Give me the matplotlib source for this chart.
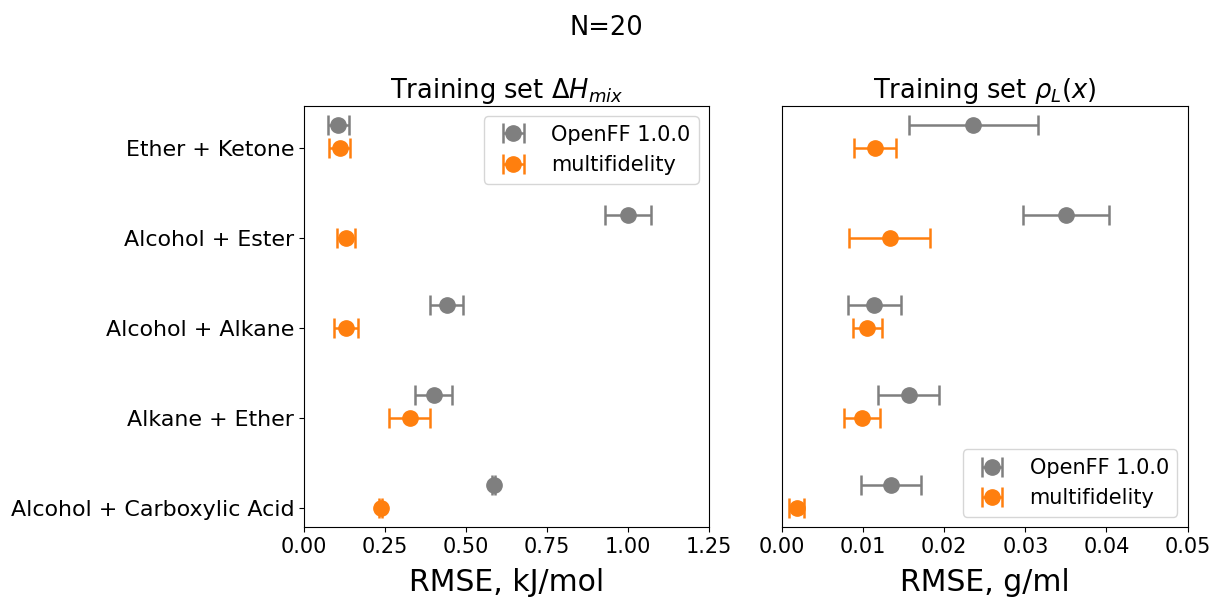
import matplotlib
matplotlib.use('Agg')
from matplotlib import pyplot as pl
import numpy

categories = ['Ether + Ketone', 'Alcohol + Ester', 'Alcohol + Alkane',
              'Alkane + Ether', 'Alcohol + Carboxylic Acid']

# enthalpy of mixing, kJ/mol
hmix_openff = [0.106, 1.000, 0.440, 0.400, 0.586]
hmix_openff_err = [0.032, 0.070, 0.050, 0.057, 0.005]
hmix_multi = [0.110, 0.130, 0.130, 0.326, 0.237]
hmix_multi_err = [0.032, 0.029, 0.036, 0.064, 0.005]

# density, g/ml
dens_openff = [0.0236, 0.0350, 0.0114, 0.0156, 0.0134]
dens_openff_err = [0.0080, 0.0053, 0.0033, 0.0038, 0.0037]
dens_multi = [0.0115, 0.0133, 0.0105, 0.0099, 0.0018]
dens_multi_err = [0.0026, 0.0050, 0.0018, 0.0022, 0.0009]

style = dict(fmt='o', markersize=11, elinewidth=1.8, capsize=7, capthick=1.8)


def plot_panel(ax, openff, openff_err, multi, multi_err, title, xlabel, xlim, xticks, loc):
    y = numpy.arange(len(categories))
    ax.errorbar(openff, y - 0.25, xerr=openff_err, color='tab:gray', label='OpenFF 1.0.0', **style)
    ax.errorbar(multi, y, xerr=multi_err, color='tab:orange', label='multifidelity', **style)
    ax.invert_yaxis()
    ax.set_xlim(*xlim)
    ax.set_xticks(xticks)
    ax.tick_params(labelsize=15)
    ax.set_title(title, fontsize=18.5)
    ax.set_xlabel(xlabel, fontsize=21.5, labelpad=8)
    ax.legend(loc=loc, fontsize=15)
    return y


fig = pl.figure(figsize=(12.13, 6.0), dpi=100)
ax1 = fig.add_axes([0.2506, 0.1217, 0.3339, 0.7016])
ax2 = fig.add_axes([0.6447, 0.1217, 0.3343, 0.7016])

y = plot_panel(ax1, hmix_openff, hmix_openff_err, hmix_multi, hmix_multi_err,
               r'Training set $\Delta H_{mix}$', 'RMSE, kJ/mol',
               (0, 1.25), [0, 0.25, 0.5, 0.75, 1.0, 1.25], 'upper right')
ax1.set_yticks(y)
ax1.set_yticklabels(categories, fontsize=15.9)

plot_panel(ax2, dens_openff, dens_openff_err, dens_multi, dens_multi_err,
           r'Training set $\rho_L(x)$', 'RMSE, g/ml',
           (0, 0.05), [0, 0.01, 0.02, 0.03, 0.04, 0.05], 'lower right')
ax2.set_yticks([])

fig.suptitle('N=20', fontsize=18.5, y=0.975)
pl.savefig('out.png', dpi=100)
